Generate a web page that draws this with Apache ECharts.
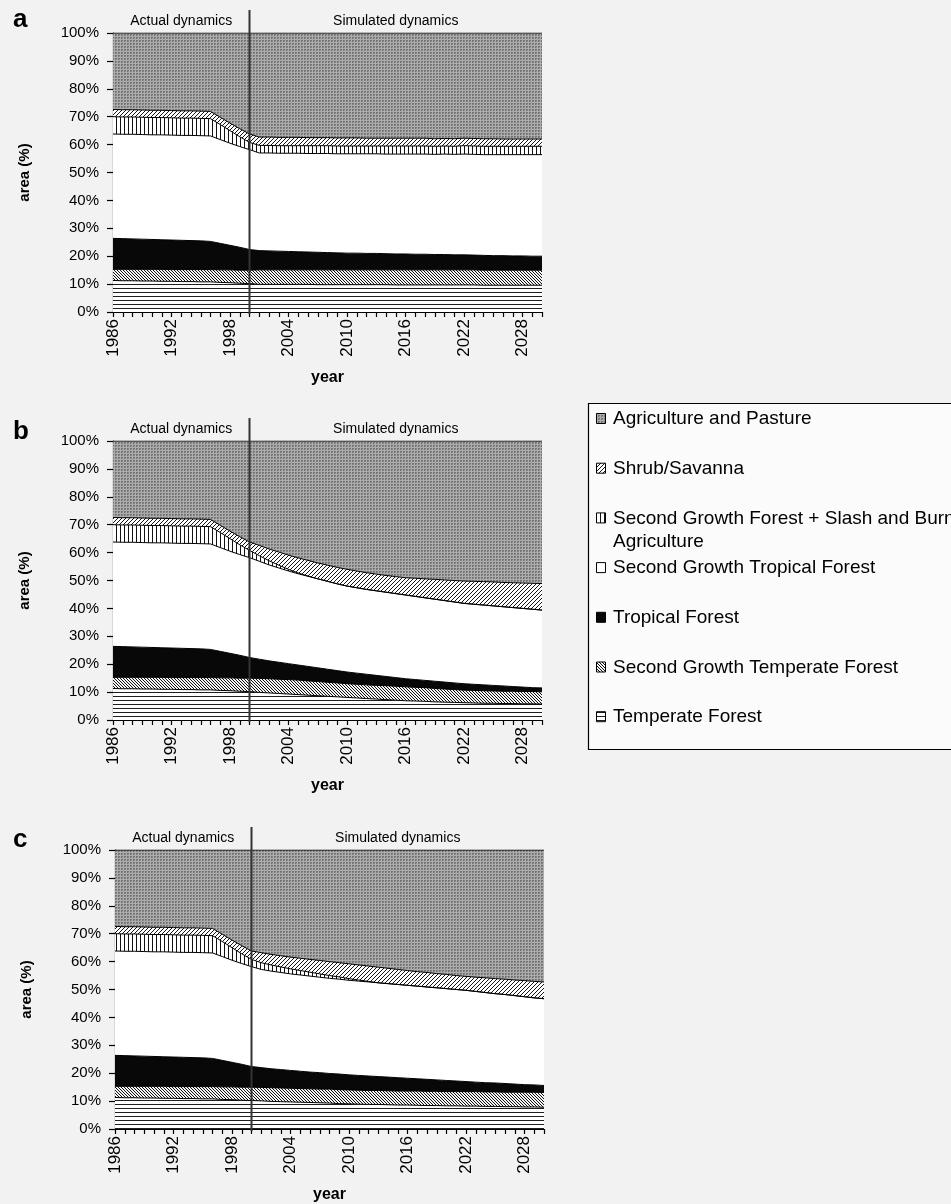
<!DOCTYPE html>
<html>
<head>
<meta charset="utf-8">
<script src="https://cdn.jsdelivr.net/npm/echarts@6/dist/echarts.min.js"></script>
<style>
html,body{margin:0;padding:0;background:#f2f2f2;}
#c{width:951px;height:1204px;}
</style>
</head>
<body>
<div id="c"></div>
<script>
// ---------------- DATA ----------------
const years = ['1986','1987','1988','1989','1990','1991','1992','1993','1994','1995','1996','1997','1998','1999','2000',
  '2001','2002','2003','2004','2005','2006','2007','2008','2009','2010','2011','2012','2013','2014','2015',
  '2016','2017','2018','2019','2020','2021','2022','2023','2024','2025','2026','2027','2028','2029','2030'];
const splitYear = '2000';
const panelLabels = ['a', 'b', 'c'];
const periodLabels = ['Actual dynamics', 'Simulated dynamics'];
const yTickSuffix = '%';
const xAxisTitle = 'year';
const yAxisTitle = 'area (%)';

// stacking order, bottom to top
const seriesNames = ['Temperate Forest', 'Second Growth Temperate Forest', 'Tropical Forest',
  'Second Growth Tropical Forest', 'Second Growth Forest + Slash and Burn Agriculture', 'Shrub/Savanna',
  'Agriculture and Pasture'];
// legend order, top to bottom
const legendNames = ['Agriculture and Pasture', 'Shrub/Savanna',
  'Second Growth Forest + Slash and Burn\nAgriculture', 'Second Growth Tropical Forest', 'Tropical Forest',
  'Second Growth Temperate Forest', 'Temperate Forest'];

// Actual dynamics 1986-2000 (same in all panels), % of area
const actTemperate   = [11.3,11.2,11.2,11.1,11.1,11.0,11.0,10.9,10.9,10.8,10.8,10.6,10.5,10.3,10.2];
const actSGTemperate = [4.0,4.1,4.1,4.2,4.2,4.3,4.2,4.3,4.3,4.4,4.4,4.5,4.6,4.7,4.8];
const actTropical    = [11.1,11.0,10.9,10.8,10.7,10.6,10.6,10.5,10.4,10.3,10.1,9.5,8.8,8.2,7.4];
const actSGTropical  = [37.4,37.4,37.5,37.5,37.5,37.6,37.6,37.6,37.7,37.7,37.8,37.2,36.6,36.1,35.8];
const actSGFSlash    = [6.2,6.2,6.2,6.2,6.2,6.2,6.2,6.2,6.2,6.2,6.2,5.4,4.5,3.5,2.6];
const actShrub       = [2.6,2.6,2.6,2.6,2.6,2.6,2.6,2.6,2.6,2.6,2.6,2.6,2.7,2.9,3.0];
const actAgri        = [27.4,27.5,27.5,27.6,27.7,27.7,27.8,27.9,27.9,28.0,28.1,30.2,32.3,34.3,36.2];

// Panel a, simulated 2001-2030
const aTemperate   = [9.9,9.9,9.9,9.9,9.9,9.9,9.8,9.8,9.8,9.8,9.8,9.8,9.8,9.8,9.7,9.7,9.7,9.7,9.7,9.7,9.7,9.7,9.7,9.6,9.6,9.6,9.6,9.6,9.6,9.6];
const aSGTemperate = [5.2,5.2,5.2,5.2,5.2,5.2,5.3,5.3,5.3,5.3,5.3,5.3,5.3,5.3,5.4,5.4,5.4,5.4,5.4,5.4,5.4,5.4,5.4,5.4,5.4,5.4,5.4,5.4,5.4,5.4];
const aTropical    = [6.9,6.8,6.7,6.6,6.5,6.4,6.3,6.2,6.1,6.0,6.0,5.9,5.9,5.8,5.7,5.7,5.6,5.6,5.5,5.5,5.4,5.4,5.3,5.3,5.2,5.2,5.1,5.1,5.0,5.0];
const aSGTropical  = [35.0,35.1,35.1,35.2,35.3,35.3,35.4,35.5,35.5,35.6,35.6,35.7,35.7,35.7,35.8,35.8,35.9,35.9,35.9,36.0,36.0,36.1,36.1,36.1,36.2,36.2,36.3,36.3,36.4,36.4];
const aSGFSlash    = [2.7,2.7,2.7,2.7,2.7,2.8,2.8,2.8,2.8,2.8,2.8,2.8,2.8,2.9,2.9,2.9,2.9,2.9,2.9,2.9,2.9,3.0,3.0,3.0,3.0,3.0,3.0,3.0,3.0,3.0];
const aShrub       = [3.0,3.0,3.0,3.0,3.0,2.9,2.9,2.9,2.9,2.9,2.9,2.8,2.8,2.8,2.8,2.8,2.8,2.8,2.7,2.7,2.7,2.7,2.7,2.7,2.7,2.6,2.6,2.6,2.6,2.6];
const aAgri        = [37.3,37.3,37.4,37.4,37.4,37.5,37.5,37.5,37.6,37.6,37.6,37.7,37.7,37.7,37.7,37.7,37.7,37.7,37.9,37.8,37.9,37.7,37.8,37.9,37.9,38.0,38.0,38.0,38.0,38.0];

// Panel b, simulated 2001-2030
const bTemperate   = [9.9,9.7,9.5,9.3,9.1,8.9,8.7,8.5,8.3,8.1,7.9,7.7,7.5,7.3,7.1,6.9,6.8,6.7,6.5,6.4,6.3,6.2,6.1,6.0,6.0,5.9,5.9,5.8,5.8,5.7];
const bSGTemperate = [5.0,5.1,5.1,5.2,5.2,5.1,5.1,5.0,5.0,4.9,4.9,4.9,4.9,5.0,5.0,5.0,4.9,4.9,4.8,4.7,4.6,4.5,4.5,4.5,4.4,4.4,4.4,4.4,4.4,4.4];
const bTropical    = [6.9,6.4,6.1,5.7,5.4,5.2,4.9,4.7,4.4,4.2,4.0,3.8,3.6,3.3,3.1,2.9,2.8,2.6,2.6,2.5,2.4,2.3,2.2,2.1,2.0,1.9,1.7,1.6,1.4,1.4];
const bSGTropical  = [35.1,34.4,33.8,33.2,32.7,32.3,31.9,31.5,31.1,30.8,30.6,30.4,30.3,30.2,30.1,30.0,29.8,29.6,29.4,29.2,29.0,28.8,28.7,28.6,28.5,28.4,28.3,28.2,28.1,27.9];
const bSGFSlash    = [2.0,1.5,1.0,0.6,0.3,0.1,0,0,0,0,0,0,0,0,0,0,0,0,0,0,0,0,0,0,0,0,0,0,0,0];
const bShrub       = [3.7,4.2,4.7,5.1,5.4,5.6,5.7,5.8,5.9,6.0,6.0,6.0,6.0,6.0,6.1,6.2,6.5,6.8,7.1,7.4,7.7,8.0,8.2,8.4,8.6,8.7,8.9,9.1,9.3,9.5];
const bAgri        = [37.4,38.7,39.8,40.9,41.9,42.8,43.7,44.5,45.3,46.0,46.6,47.2,47.7,48.2,48.6,49.0,49.2,49.4,49.6,49.8,50.0,50.2,50.3,50.4,50.5,50.7,50.8,50.9,51.0,51.1];

// Panel c, simulated 2001-2030
const cTemperate   = [10.1,9.9,9.8,9.7,9.6,9.5,9.4,9.3,9.1,9.0,8.9,8.8,8.8,8.7,8.6,8.6,8.5,8.4,8.4,8.3,8.3,8.2,8.2,8.1,8.1,8.0,8.0,7.9,7.9,7.8];
const cSGTemperate = [4.8,4.9,4.9,4.9,4.9,4.9,4.9,5.0,5.0,5.0,5.0,5.0,5.0,5.0,5.0,5.0,5.1,5.1,5.1,5.1,5.1,5.2,5.2,5.2,5.2,5.2,5.2,5.3,5.3,5.3];
const cTropical    = [7.1,6.8,6.6,6.4,6.2,6.0,5.9,5.6,5.6,5.4,5.3,5.2,5.0,4.9,4.8,4.6,4.4,4.3,4.1,4.0,3.8,3.6,3.4,3.3,3.2,3.1,2.9,2.7,2.6,2.5];
const cSGTropical  = [35.2,35.0,34.8,34.6,34.5,34.4,34.2,34.1,34.0,33.9,33.8,33.7,33.6,33.5,33.4,33.3,33.2,33.1,33.0,32.9,32.8,32.7,32.5,32.3,32.0,31.9,31.7,31.5,31.2,31.1];
const cSGFSlash    = [2.4,2.2,2.0,1.8,1.6,1.4,1.2,1.0,0.8,0.6,0.4,0.2,0,0,0,0,0,0,0,0,0,0,0,0,0,0,0,0,0,0];
const cShrub       = [3.6,3.8,4.0,4.2,4.4,4.6,4.8,5.0,5.1,5.3,5.4,5.5,5.6,5.5,5.4,5.3,5.2,5.2,5.1,5.1,5.0,5.0,5.1,5.3,5.4,5.5,5.6,5.8,5.9,6.0];
const cAgri        = [36.8,37.4,37.9,38.4,38.8,39.2,39.6,40.0,40.4,40.8,41.2,41.6,42.0,42.4,42.8,43.2,43.6,43.9,44.3,44.6,45.0,45.3,45.6,45.8,46.1,46.3,46.6,46.8,47.1,47.3];

const actual = [actTemperate, actSGTemperate, actTropical, actSGTropical, actSGFSlash, actShrub, actAgri];
const simulated = [
  [aTemperate, aSGTemperate, aTropical, aSGTropical, aSGFSlash, aShrub, aAgri],
  [bTemperate, bSGTemperate, bTropical, bSGTropical, bSGFSlash, bShrub, bAgri],
  [cTemperate, cSGTemperate, cTropical, cSGTropical, cSGFSlash, cShrub, cAgri]
];

// ---------------- STYLE ----------------
const FONT = 'Liberation Sans, Arial, Helvetica, sans-serif';
function pat(w, h, bg, fg, px) {
  const c = document.createElement('canvas');
  c.width = w; c.height = h;
  const x = c.getContext('2d');
  x.fillStyle = bg; x.fillRect(0, 0, w, h);
  x.fillStyle = fg;
  px.forEach(p => x.fillRect(p[0], p[1], 1, 1));
  return { image: c, repeat: 'repeat' };
}
function agriPattern() {
  const c = document.createElement('canvas');
  c.width = 3; c.height = 3;
  const x = c.getContext('2d');
  x.fillStyle = '#747474'; x.fillRect(0, 0, 3, 3);
  x.fillStyle = '#acacac'; x.fillRect(0, 0, 3, 1); x.fillRect(0, 0, 1, 3);
  x.fillStyle = '#949494'; x.fillRect(2, 2, 1, 1);
  return { image: c, repeat: 'repeat' };
}
const fills = {
  'Temperate Forest': pat(1, 4, '#ffffff', '#1e1e1e', [[0, 0]]),
  'Second Growth Temperate Forest': pat(3, 3, '#f4f4f4', '#111111', [[0, 0], [1, 1], [2, 2]]),
  'Tropical Forest': '#080808',
  'Second Growth Tropical Forest': '#ffffff',
  'Second Growth Forest + Slash and Burn Agriculture': pat(4, 1, '#ffffff', '#111111', [[0, 0]]),
  'Shrub/Savanna': pat(4, 4, '#ffffff', '#151515', [[3, 0], [2, 1], [1, 2], [0, 3]]),
  'Agriculture and Pasture': agriPattern()
};

const grids = [
  { left: 113, top: 33, width: 429, height: 279 },
  { left: 113, top: 441, width: 429, height: 279 },
  { left: 115, top: 850, width: 429, height: 279 }
];

const xAxes = [], yAxes = [], series = [];
grids.forEach((g, i) => {
  xAxes.push({
    type: 'category', gridIndex: i, data: years, boundaryGap: false,
    axisLine: { lineStyle: { color: '#000', width: 1.2 } },
    axisTick: { interval: 0, length: 5, lineStyle: { color: '#000', width: 1.2 } },
    axisLabel: { interval: 5, rotate: 90, fontSize: 17, color: '#000', fontFamily: FONT, margin: 7 },
    splitLine: { show: false },
    name: xAxisTitle, nameLocation: 'middle', nameGap: 58,
    nameTextStyle: { fontWeight: 'bold', fontSize: 16, color: '#000', fontFamily: FONT }
  });
  yAxes.push({
    type: 'value', gridIndex: i, min: 0, max: 100, interval: 10,
    axisLine: { show: true, lineStyle: { color: '#000', width: 1.2 } },
    axisTick: { show: true, length: 6, lineStyle: { color: '#000', width: 1.2 } },
    splitLine: { show: false },
    axisLabel: { formatter: v => v + yTickSuffix, fontSize: 15, color: '#000', fontFamily: FONT, margin: 14 },
    name: yAxisTitle, nameLocation: 'middle', nameGap: 81, nameRotate: 90,
    nameTextStyle: { fontWeight: 'bold', fontSize: 15, color: '#000', fontFamily: FONT }
  });
  seriesNames.forEach((name, k) => {
    series.push({
      type: 'line', name: name, xAxisIndex: i, yAxisIndex: i, stack: 'panel' + i,
      data: actual[k].concat(simulated[i][k]),
      symbol: 'none', silent: true, animation: false,
      lineStyle: { color: '#000', width: 1 },
      itemStyle: { color: '#000' },
      areaStyle: { color: fills[name], opacity: 1 },
      emphasis: { disabled: true }
    });
  });
});

const chart = echarts.init(document.getElementById('c'), null, { renderer: 'canvas', width: 951, height: 1204 });
chart.setOption({
  backgroundColor: '#f2f2f2',
  animation: false,
  textStyle: { fontFamily: FONT },
  grid: grids,
  xAxis: xAxes,
  yAxis: yAxes,
  series: series
});

// ---------------- ANNOTATIONS ----------------
const graphics = [];
const letterY = [33, 445, 853];
grids.forEach((g, i) => {
  const xL = chart.convertToPixel({ xAxisIndex: i }, years[0]);
  const xS = chart.convertToPixel({ xAxisIndex: i }, splitYear);
  const xR = chart.convertToPixel({ xAxisIndex: i }, years[years.length - 1]);
  const yTop = chart.convertToPixel({ yAxisIndex: i }, 100);
  const yBot = chart.convertToPixel({ yAxisIndex: i }, 0);
  graphics.push({
    type: 'line', silent: true, z: 50,
    shape: { x1: xS, y1: yTop - 23, x2: xS, y2: yBot + 2 },
    style: { stroke: '#333333', lineWidth: 2 }
  });
  graphics.push({
    type: 'text', silent: true, z: 50,
    style: { text: periodLabels[0], x: (xL + xS) / 2, y: yTop - 12, align: 'center', verticalAlign: 'middle',
      font: '14px ' + FONT, fill: '#000' }
  });
  graphics.push({
    type: 'text', silent: true, z: 50,
    style: { text: periodLabels[1], x: (xS + xR) / 2, y: yTop - 12, align: 'center', verticalAlign: 'middle',
      font: '14px ' + FONT, fill: '#000' }
  });
  graphics.push({
    type: 'text', silent: true, z: 50,
    style: { text: panelLabels[i], x: 13, y: letterY[i], align: 'left', verticalAlign: 'bottom',
      font: 'bold 26px ' + FONT, fill: '#000' }
  });
});

// legend box
graphics.push({
  type: 'rect', silent: true, z: 40,
  shape: { x: 588.5, y: 403.5, width: 420, height: 346 },
  style: { fill: '#fbfbfb', stroke: '#000', lineWidth: 1.2 }
});
const stackNameFor = ln => ln.replace('\n', ' ');
legendNames.forEach((ln, j) => {
  const cy = 419 + j * 49.7;
  graphics.push({
    type: 'rect', silent: true, z: 41,
    shape: { x: 596.5, y: cy - 5.5, width: 9, height: 10 },
    style: { fill: fills[stackNameFor(ln)], stroke: '#000', lineWidth: 1 }
  });
  graphics.push({
    type: 'text', silent: true, z: 41,
    style: { text: ln, x: 613, y: cy - 11.5, align: 'left', verticalAlign: 'top',
      font: '19px ' + FONT, lineHeight: 23, fill: '#000' }
  });
});
chart.setOption({ graphic: graphics });
</script>
</body>
</html>
